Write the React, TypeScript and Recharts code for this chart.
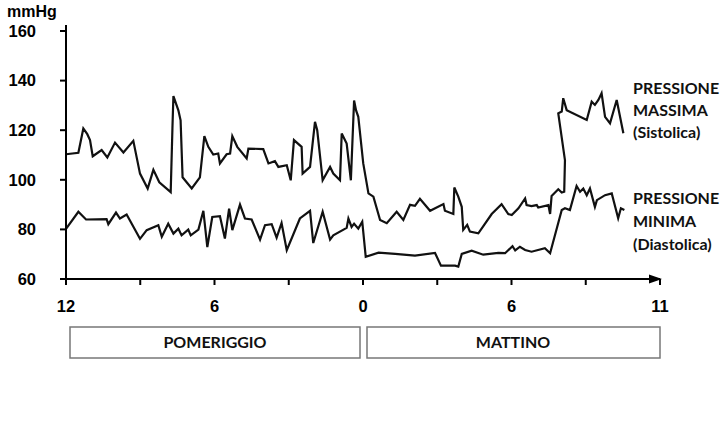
import { LineChart, Line, XAxis, YAxis, ReferenceLine, ReferenceDot } from 'recharts';

// ore dal mezzogiorno (0 = ore 12, 12 = mezzanotte, 24 = fine asse)
const sysHours = [
  0, 0.5, 0.7, 0.86, 0.97, 1.08, 1.44, 1.67, 1.98, 2.32, 2.72, 2.99, 3.3, 3.53, 3.77, 4.23,
  4.3, 4.34, 4.4, 4.54, 4.63, 4.71, 5.08, 5.41, 5.59, 5.75, 5.95, 6.15, 6.22, 6.49, 6.63,
  6.72, 6.92, 7.3, 7.37, 7.97, 8.18, 8.44, 8.58, 8.92, 9.08, 9.21, 9.52, 9.56, 9.86, 10.06,
  10.15, 10.37, 10.67, 10.8, 11.07, 11.14, 11.34, 11.51, 11.64, 11.72, 11.81, 12.01, 12.22,
  12.42, 12.69, 12.96, 13.36, 13.63, 13.9, 14.1, 14.3, 14.71, 15.25, 15.31, 15.65, 15.69,
  15.85, 15.99, 16.05, 16.21, 16.32, 16.66, 17.2, 17.6, 17.87, 18.01, 18.28, 18.55, 18.61,
  18.81, 19.02, 19.08, 19.49, 19.56, 19.62, 19.89, 20.03, 20.13, 20.16, 19.89, 20.03, 20.09,
  20.23, 21.04, 21.24, 21.37, 21.51, 21.64, 21.78, 21.98, 22.25, 22.52,
];
const sysValues = [
  110.3, 110.9, 120.7, 118.4, 116, 109.5, 112, 109, 115, 111, 115.7, 102.5, 96.5, 104, 99, 95,
  120.7, 133.8, 132, 128, 124, 101, 96.5, 101, 117.6, 113.3, 110.2, 110.6, 106.6, 110.3, 110.6,
  117.6, 113.3, 108.6, 112.6, 112.4, 106.6, 107.5, 105.2, 105.9, 99.8, 116, 113.3, 102.5, 105.2, 123.4,
  120, 99.8, 105.2, 102.5, 99.8, 118.7, 114.6, 99.8, 132, 128, 125.4, 106.6, 94.5,
  93.2, 83.8, 82.5, 87.1, 83.8, 89.9, 89.5, 92.3, 87.5, 90.2, 87.5, 86.2, 96.9,
  93.2, 89.1, 79.8, 81.8, 79.1, 78.4, 86.2, 90.2, 86.2, 85.8, 88.5, 92.5, 89.8,
  89.4, 89.8, 88.8, 89.8, 86.2, 93.5, 96.2, 94.9, 95.2, 107.9, 126.8, 127.5, 132.9,
  128.1, 124.1, 131.5, 130.2, 132.2, 134.9, 125.4, 122.8, 132.2, 118.8,
];

const diaHours = [
  0, 0.5, 0.81, 1.64, 1.71, 2.02, 2.18, 2.45, 2.99, 3.26, 3.73, 3.87, 4.13, 4.34, 4.54, 4.67,
  4.94, 5.04, 5.35, 5.55, 5.71, 5.91, 6.22, 6.42, 6.59, 6.72, 7.03, 7.23, 7.5, 7.84, 8.04,
  8.31, 8.51, 8.71, 8.92, 9.45, 9.86, 9.99, 10.37, 10.67, 10.8, 11.34, 11.41, 11.54, 11.64,
  11.81, 11.97, 12.11, 12.63, 13.3, 14.1, 14.91, 15.15, 15.72, 15.85, 15.99, 16.39, 16.86,
  17.47, 17.74, 18.04, 18.15, 18.34, 18.55, 18.81, 19.35, 19.56, 20.03, 20.16, 20.36, 20.63,
  20.77, 20.9, 21.04, 21.17, 21.37, 21.45, 21.78, 22.05, 22.31, 22.42, 22.56,
];
const diaValues = [
  80.2, 87.1, 84, 84.1, 82.1, 86.8, 84.4, 86, 76.2, 79.7, 81.7, 77, 82.3, 78.3, 80.3, 77.6,
  79.9, 77.6, 79.9, 87.5, 72.9, 85, 85.3, 76.3, 88.4, 79.7, 90, 84.4, 84, 75.9, 81.7,
  82.1, 76.7, 82.6, 71.6, 84.4, 87.5, 74.5, 87.1, 75.9, 77.6, 80.6, 84.4, 81, 82.3,
  80.3, 83.1, 69, 70.6, 70.1, 69.4, 70.5, 65.4, 65.4, 65, 70.1, 71.4, 69.8,
  70.5, 70.4, 73.2, 71.5, 73, 71.7, 71, 72.4, 70.4, 87.8, 88.5, 87.8, 97.5,
  95.2, 96.5, 93.8, 96.5, 89.1, 91.8, 93.8, 94.5, 84.5, 88.5, 87.8,
];

const yTicks = [60, 80, 100, 120, 140, 160];
const xTicks = [0, 3, 6, 9, 12, 15, 18, 21, 24];
const xTickLabels: Record<number, string> = { 0: '12', 6: '6', 12: '0', 18: '6', 24: '11' };

const sysData = sysHours.map((h, i) => ({ h, v: sysValues[i] }));
const diaData = diaHours.map((h, i) => ({ h, v: diaValues[i] }));

const tickFont = { fill: '#000', fontSize: 16.5, fontWeight: 700, fontFamily: '"Liberation Sans", Arial, sans-serif' };
const labelFont = 'Lato, "Open Sans", sans-serif';

const Arrow = (props: any) => {
  const { cx, cy } = props;
  return <path d={`M${cx - 11},${cy - 4.5} L${cx + 2},${cy} L${cx - 11},${cy + 4.5} Z`} fill="#000" />;
};

export default function App() {
  return (
    <div style={{ position: 'absolute', left: 0, top: 0, width: 720, height: 440, background: '#fff' }}>
      <LineChart width={720} height={440} margin={{ top: 31, right: 60, bottom: 131, left: 6 }}>
        <XAxis
          dataKey="h"
          type="number"
          domain={[0, 24]}
          ticks={xTicks}
          interval={0}
          tickFormatter={(t: number) => xTickLabels[t] ?? ''}
          height={30}
          tickSize={6}
          tickMargin={15}
          axisLine={{ stroke: '#000', strokeWidth: 2 }}
          tickLine={{ stroke: '#000', strokeWidth: 2 }}
          tick={tickFont}
        />
        <YAxis
          type="number"
          domain={[60, 160]}
          ticks={yTicks}
          interval={0}
          width={60}
          tickSize={6}
          tickMargin={24}
          axisLine={{ stroke: '#000', strokeWidth: 2 }}
          tickLine={{ stroke: '#000', strokeWidth: 2 }}
          tick={tickFont}
        />
        <ReferenceLine
          segment={[{ x: 0, y: 60 }, { x: 0, y: 162.4 }]}
          stroke="#000"
          strokeWidth={2}
          ifOverflow="visible"
        />
        <ReferenceDot x={24} y={60} r={0} shape={Arrow} ifOverflow="visible" />
        <Line data={sysData} dataKey="v" type="linear" stroke="#111" strokeWidth={2.2} dot={false} isAnimationActive={false} />
        <Line data={diaData} dataKey="v" type="linear" stroke="#111" strokeWidth={2.2} dot={false} isAnimationActive={false} />
      </LineChart>

      <svg width={720} height={440} style={{ position: 'absolute', left: 0, top: 0, pointerEvents: 'none' }}>
        <text x={7} y={17} fontSize={16} fontWeight={700} fontFamily={tickFont.fontFamily} fill="#000">mmHg</text>

        <g fontFamily={labelFont} fontSize={16} fontWeight={700} fill="#111">
          <text x={633} y={94}>PRESSIONE</text>
          <text x={633} y={116}>MASSIMA</text>
          <text x={633} y={138}>(Sistolica)</text>
          <text x={633} y={204}>PRESSIONE</text>
          <text x={633} y={227}>MINIMA</text>
          <text x={633} y={250}>(Diastolica)</text>
        </g>

        <rect x={70} y={327} width={290} height={31} fill="#fff" stroke="#777" strokeWidth={1.5} />
        <rect x={367} y={327} width={293} height={31} fill="#fff" stroke="#777" strokeWidth={1.5} />
        <g fontFamily={labelFont} fontSize={16} fontWeight={700} fill="#111" textAnchor="middle">
          <text x={215} y={348}>POMERIGGIO</text>
          <text x={513} y={348}>MATTINO</text>
        </g>
      </svg>
    </div>
  );
}
